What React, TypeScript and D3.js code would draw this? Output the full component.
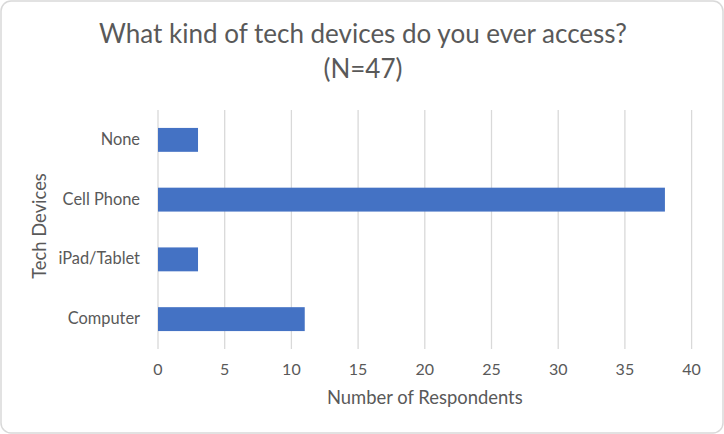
import React from "react";
import * as d3 from "d3";

const categories = ["None", "Cell Phone", "iPad/Tablet", "Computer"];
const values = [3, 38, 3, 11];
const xTicks = [0, 5, 10, 15, 20, 25, 30, 35, 40];
const titleLines = ["What kind of tech devices do you ever access?", "(N=47)"];
const xTitle = "Number of Respondents";
const yTitle = "Tech Devices";

const W = 724;
const H = 434;
const FONT = "Lato, 'Open Sans', sans-serif";
const TEXT = "#595959";

export default function App() {
  const m = { left: 158, right: 32, top: 110, bottom: 85 };
  const x = d3.scaleLinear().domain([0, 40]).range([m.left, 691.6]);
  const y = d3
    .scaleBand<string>()
    .domain(categories)
    .range([m.top, H - m.bottom])
    .paddingInner(0.6)
    .paddingOuter(0.3);
  const band = d3.scaleBand<string>().domain(categories).range([m.top, H - m.bottom]);

  return (
    <svg
      width={W}
      height={H}
      style={{ position: "absolute", left: 0, top: 0 }}
      fontFamily={FONT}
    >
      <rect x={1} y={1} width={W - 2} height={H - 2} rx={10} fill="#fff" stroke="#d9d9d9" strokeWidth={1.5} />
      {titleLines.map((t, i) => (
        <text key={i} x={W / 2 + 1} y={43 + i * 35} textAnchor="middle" fontSize={26} fill={TEXT}>
          {t}
        </text>
      ))}
      {xTicks.map((t) => (
        <g key={t}>
          {t > 0 && (
            <line x1={x(t)} x2={x(t)} y1={m.top} y2={H - m.bottom} stroke="#d9d9d9" strokeWidth={1.3} />
          )}
          <text x={x(t)} y={375} textAnchor="middle" fontSize={16} fill={TEXT}>
            {t}
          </text>
        </g>
      ))}
      <line x1={x(0)} x2={x(0)} y1={m.top} y2={H - m.bottom} stroke="#d9d9d9" strokeWidth={1.3} />
      {categories.map((c, i) => (
        <g key={c}>
          <rect
            x={x(0)}
            y={y(c)!}
            width={x(values[i]) - x(0)}
            height={y.bandwidth()}
            fill="#4472C4"
          />
          <text
            x={140}
            y={band(c)! + band.bandwidth() / 2 + 5}
            textAnchor="end"
            fontSize={16.4}
            fill={TEXT}
          >
            {c}
          </text>
        </g>
      ))}
      <text x={(m.left + 691.6) / 2} y={404} textAnchor="middle" fontSize={18.4} fill={TEXT}>
        {xTitle}
      </text>
      <text
        transform={`translate(46, 226) rotate(-90)`}
        textAnchor="middle"
        fontSize={18.4}
        fill={TEXT}
      >
        {yTitle}
      </text>
    </svg>
  );
}
